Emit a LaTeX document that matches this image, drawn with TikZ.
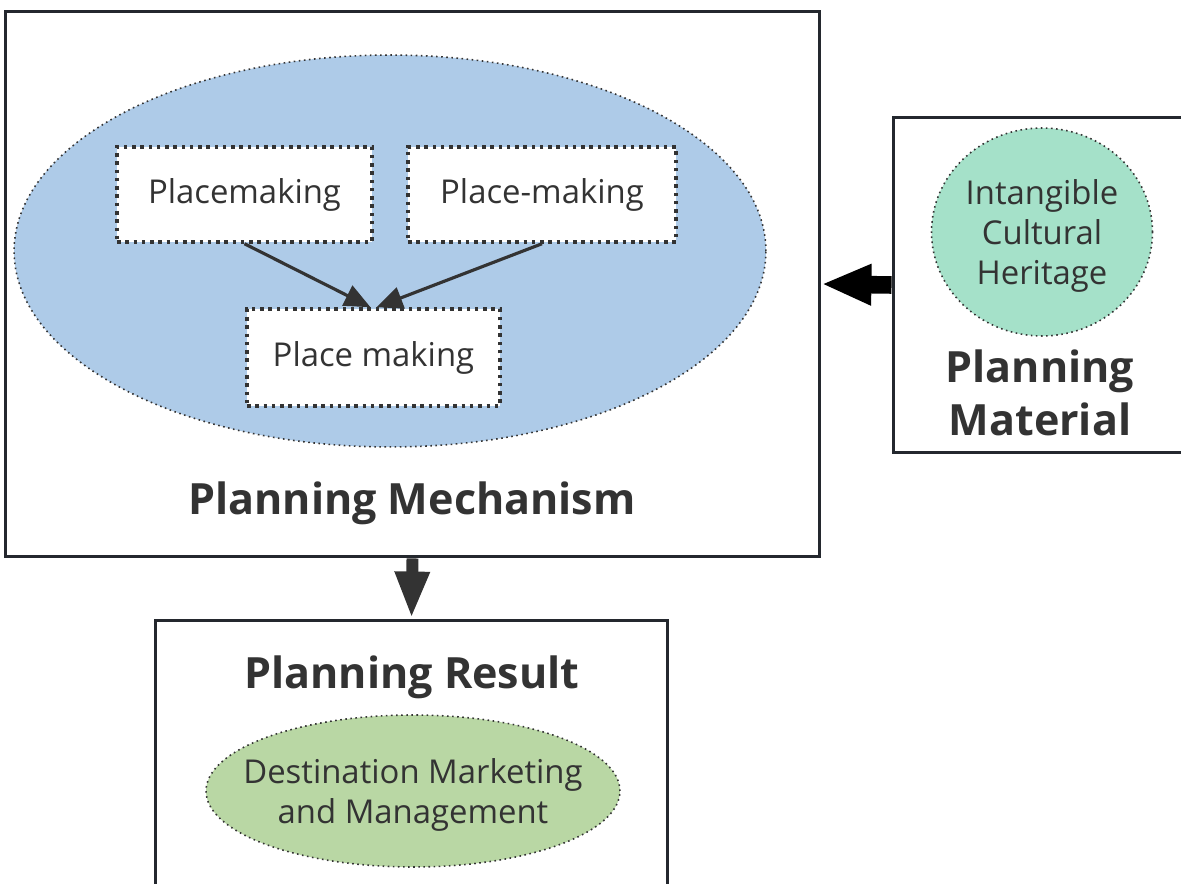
\documentclass[tikz,border=0pt]{standalone}
\usepackage{fontspec}
\setmainfont{Open Sans}
\usetikzlibrary{shapes.geometric, arrows.meta}
\definecolor{ink}{HTML}{333333}
\definecolor{frame}{HTML}{24282E}
\definecolor{mechblue}{HTML}{AECBE8}
\definecolor{ichgreen}{HTML}{A5E1C9}
\definecolor{dmmgreen}{HTML}{B9D7A4}

\begin{document}
\begin{tikzpicture}[x=0.02cm, y=-0.02cm, text=ink,
  panel/.style={draw=frame, line width=1.7pt, fill=white, inner sep=0pt},
  blob/.style={ellipse, draw=ink, dotted, line width=0.9pt, inner sep=0pt},
  blobtext/.style={align=center, yshift=-0.08cm, font=\fontsize{18.7}{22.7}\selectfont},
  term/.style={draw=ink, line width=2pt, dash pattern=on 2pt off 2.7pt,
    fill=white, inner sep=0pt, font=\fontsize{18.7}{22}\selectfont},
  heading/.style={font=\bfseries\fontsize{24.5}{30}\selectfont, align=center},
  feed/.style={draw=ink, line width=1.8pt, -{Triangle[length=0.52cm, width=0.44cm]}}]
\useasboundingbox (0,0) rectangle (1181,884);
\clip (0,0) rectangle (1181,884);
% ---- planning mechanism ----
\node[panel, minimum width=16.3cm, minimum height=10.92cm] (mechanism) at (412.5,284) {};
\node[blob, fill=mechblue, minimum width=15.04cm, minimum height=7.84cm] (mechblob) at (390,251) {};
\node[term, minimum width=5.1cm, minimum height=1.9cm] (placemaking) at (244.5,194.5) {Placemaking};
\node[term, minimum width=5.36cm, minimum height=1.9cm] (placehyphen) at (542,194.5) {Place-making};
\node[term, minimum width=5.06cm, minimum height=1.94cm] (placespace) at (373.5,357.5) {Place making};
\draw[feed] (placemaking.south) -- ([xshift=-0.06cm]placespace.north);
\draw[feed] (placehyphen.south) -- ([xshift=0.06cm]placespace.north);
\node[heading] (mechtitle) at (412,503) {Planning Mechanism};
% ---- planning material ----
\node[panel, minimum width=5.94cm, minimum height=6.72cm] (material) at (1041.5,285) {};
\node[blob, fill=ichgreen, minimum width=4.42cm, minimum height=4.16cm] (heritage) at (1042,232) {};
\node[blobtext] (heritagetext) at (heritage) {Intangible\\Cultural\\Heritage};
\node[heading] (mattitle) at (1040,393) {Planning\\Material};
\draw[black, line width=10pt, -{Triangle[length=1cm, width=0.76cm]}] (material.west) -- (mechanism.east);
% ---- planning result ----
\node[panel, minimum width=10.26cm, minimum height=5.6cm] (result) at (411.5,760) {};
\node[heading] (restitle) at (412,677) {Planning Result};
\node[blob, fill=dmmgreen, minimum width=8.28cm, minimum height=3.04cm] (marketing) at (413,791) {};
\node[blobtext] (marketingtext) at (marketing) {Destination Marketing\\and Management};
\draw[ink, line width=6.8pt, -{Triangle[length=0.94cm, width=0.64cm]}] (mechanism.south) -- (result.north);
\end{tikzpicture}
\end{document}
